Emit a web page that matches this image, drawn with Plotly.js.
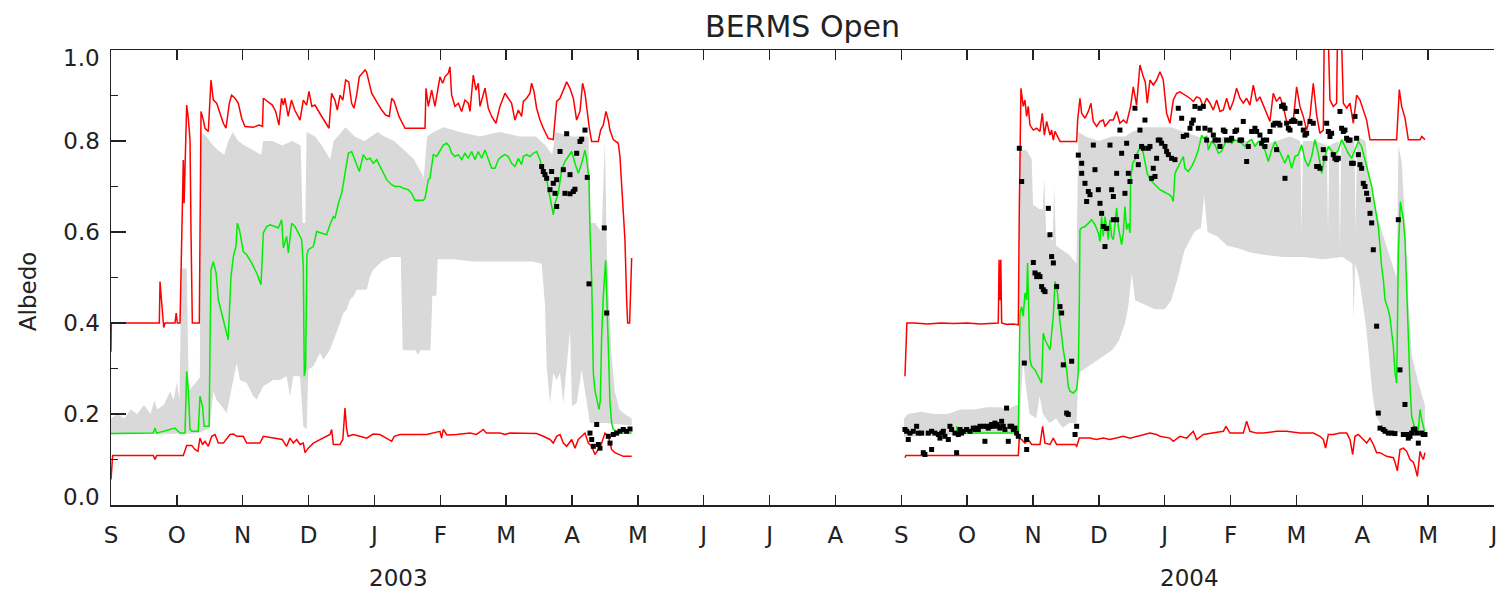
<!DOCTYPE html>
<html>
<head>
<meta charset="utf-8">
<script src="https://cdn.plot.ly/plotly-3.0.1.min.js"></script>
<style>
  html, body { margin: 0; padding: 0; background: #fff; }
  #chart { width: 1508px; height: 594px; }
</style>
</head>
<body>
<div id="chart"></div>
<script>
// x is measured in months from 1 September 2002; y is albedo.
const monthLabels = ['S','O','N','D','J','F','M','A','M','J','J','A','S','O','N','D','J','F','M','A','M','J'];
const albedoTicks = [0, 0.2, 0.4, 0.6, 0.8, 1.0];
const albedoTickText = ['0.0', '0.2', '0.4', '0.6', '0.8', '1.0'];
const yearLabels = [['2003', 4.36], ['2004', 16.38]];

// ---- winter 2002/03 ----
const s1Max = [[0,0.337],[0.005,0.40],[0.592,0.40],[0.734,0.40],[0.744,0.491],[0.77,0.44],[0.785,0.429],[0.80,0.39],[0.82,0.40],[0.972,0.40],[0.99,0.422],[1.007,0.40],[1.048,0.40],[1.073,0.579],[1.098,0.758],[1.11,0.663],[1.149,0.879],[1.174,0.85],[1.2,0.802],[1.215,0.598],[1.235,0.40],[1.341,0.40],[1.351,0.634],[1.367,0.865],[1.402,0.846],[1.427,0.828],[1.478,0.821],[1.493,0.879],[1.518,0.934],[1.554,0.89],[1.605,0.883],[1.655,0.861],[1.706,0.839],[1.746,0.828],[1.797,0.883],[1.832,0.901],[1.883,0.894],[1.933,0.883],[1.984,0.85],[2.035,0.832],[2.16,0.830],[2.25,0.835],[2.30,0.832],[2.313,0.894],[2.38,0.887],[2.45,0.879],[2.5,0.865],[2.55,0.835],[2.59,0.894],[2.617,0.879],[2.64,0.894],[2.69,0.854],[2.74,0.89],[2.79,0.868],[2.87,0.846],[2.92,0.89],[2.97,0.879],[3.006,0.909],[3.05,0.876],[3.097,0.879],[3.17,0.861],[3.234,0.846],[3.31,0.828],[3.35,0.905],[3.40,0.89],[3.436,0.868],[3.477,0.901],[3.52,0.89],[3.563,0.934],[3.61,0.930],[3.654,0.883],[3.69,0.872],[3.73,0.901],[3.77,0.941],[3.857,0.956],[3.88,0.952],[3.958,0.905],[4.03,0.887],[4.11,0.868],[4.17,0.857],[4.226,0.854],[4.262,0.894],[4.30,0.887],[4.373,0.854],[4.464,0.828],[4.768,0.828],[4.783,0.916],[4.818,0.876],[4.869,0.912],[4.919,0.876],[4.995,0.941],[5.036,0.927],[5.071,0.941],[5.122,0.949],[5.147,0.963],[5.172,0.901],[5.223,0.876],[5.274,0.883],[5.324,0.865],[5.375,0.890],[5.425,0.883],[5.451,0.865],[5.501,0.945],[5.542,0.912],[5.577,0.927],[5.603,0.876],[5.679,0.916],[5.729,0.872],[5.78,0.854],[5.845,0.839],[5.906,0.876],[5.982,0.905],[6.033,0.894],[6.083,0.883],[6.134,0.846],[6.185,0.868],[6.235,0.854],[6.261,0.887],[6.311,0.894],[6.362,0.905],[6.387,0.927],[6.423,0.909],[6.463,0.872],[6.514,0.846],[6.564,0.828],[6.64,0.806],[6.716,0.803],[6.767,0.887],[6.817,0.894],[6.868,0.912],[6.919,0.930],[6.969,0.916],[7.02,0.894],[7.07,0.846],[7.121,0.865],[7.161,0.927],[7.197,0.905],[7.263,0.828],[7.298,0.799],[7.399,0.799],[7.435,0.824],[7.475,0.835],[7.516,0.865],[7.551,0.846],[7.576,0.824],[7.627,0.803],[7.703,0.795],[7.728,0.766],[7.779,0.656],[7.804,0.583],[7.83,0.45],[7.845,0.40],[7.875,0.40],[7.89,0.48],[7.906,0.543]];

const s1Min = [[0,0.056],[0.025,0.109],[0.643,0.109],[0.668,0.100],[0.693,0.109],[1.098,0.109],[1.149,0.131],[1.225,0.131],[1.275,0.122],[1.32,0.118],[1.351,0.147],[1.39,0.133],[1.427,0.140],[1.478,0.129],[1.529,0.151],[1.579,0.155],[1.63,0.136],[1.706,0.136],[1.807,0.155],[1.86,0.156],[1.908,0.151],[2.009,0.151],[2.06,0.136],[2.262,0.136],[2.313,0.151],[2.516,0.147],[2.6,0.144],[2.667,0.129],[2.718,0.147],[2.768,0.136],[2.82,0.144],[2.87,0.133],[2.92,0.136],[2.946,0.115],[2.996,0.125],[3.072,0.136],[3.173,0.144],[3.325,0.155],[3.351,0.166],[3.376,0.133],[3.477,0.133],[3.52,0.144],[3.553,0.213],[3.579,0.166],[3.6,0.151],[3.68,0.155],[3.78,0.151],[3.882,0.147],[3.98,0.156],[4.084,0.155],[4.18,0.147],[4.262,0.140],[4.30,0.151],[4.388,0.155],[4.793,0.155],[4.995,0.162],[5.02,0.147],[5.046,0.166],[5.1,0.154],[5.249,0.155],[5.451,0.158],[5.55,0.155],[5.654,0.166],[5.7,0.158],[5.907,0.158],[5.98,0.155],[6.058,0.158],[6.261,0.158],[6.463,0.157],[6.564,0.151],[6.666,0.144],[6.716,0.136],[6.767,0.151],[6.818,0.155],[6.868,0.136],[6.919,0.129],[6.995,0.144],[7.045,0.125],[7.096,0.144],[7.147,0.151],[7.197,0.158],[7.248,0.136],[7.299,0.129],[7.349,0.111],[7.4,0.122],[7.45,0.136],[7.501,0.158],[7.551,0.151],[7.602,0.122],[7.653,0.115],[7.729,0.111],[7.779,0.107],[7.906,0.107]];

const s1Mean = [[0,0.157],[0.59,0.158],[0.64,0.158],[0.668,0.169],[0.693,0.158],[0.972,0.169],[0.99,0.166],[1.048,0.158],[1.124,0.158],[1.149,0.294],[1.174,0.254],[1.2,0.166],[1.225,0.162],[1.325,0.162],[1.351,0.239],[1.39,0.217],[1.415,0.173],[1.49,0.173],[1.503,0.341],[1.518,0.517],[1.554,0.535],[1.595,0.510],[1.63,0.451],[1.68,0.422],[1.73,0.393],[1.78,0.363],[1.797,0.422],[1.822,0.502],[1.858,0.546],[1.898,0.568],[1.918,0.619],[1.95,0.605],[2.009,0.557],[2.06,0.550],[2.136,0.532],[2.212,0.510],[2.278,0.484],[2.313,0.598],[2.364,0.612],[2.414,0.616],[2.49,0.612],[2.541,0.609],[2.591,0.627],[2.617,0.565],[2.667,0.590],[2.693,0.554],[2.743,0.619],[2.794,0.612],[2.844,0.598],[2.895,0.583],[2.92,0.525],[2.935,0.283],[2.955,0.30],[2.975,0.55],[2.996,0.561],[3.072,0.568],[3.123,0.601],[3.199,0.598],[3.275,0.594],[3.325,0.616],[3.376,0.634],[3.401,0.630],[3.452,0.663],[3.503,0.685],[3.553,0.726],[3.604,0.773],[3.654,0.777],[3.705,0.759],[3.771,0.733],[3.831,0.770],[3.882,0.759],[3.933,0.762],[3.983,0.751],[4.034,0.759],[4.11,0.737],[4.186,0.715],[4.262,0.704],[4.312,0.700],[4.388,0.700],[4.439,0.696],[4.514,0.693],[4.565,0.685],[4.616,0.670],[4.742,0.670],[4.768,0.674],[4.818,0.715],[4.843,0.718],[4.869,0.751],[4.894,0.770],[4.945,0.766],[4.995,0.780],[5.046,0.791],[5.097,0.795],[5.137,0.788],[5.173,0.773],[5.223,0.766],[5.274,0.770],[5.324,0.759],[5.375,0.773],[5.425,0.762],[5.476,0.777],[5.527,0.759],[5.577,0.777],[5.628,0.762],[5.679,0.780],[5.729,0.759],[5.78,0.740],[5.831,0.740],[5.881,0.759],[5.932,0.766],[5.982,0.770],[6.033,0.766],[6.083,0.751],[6.134,0.744],[6.185,0.762],[6.235,0.748],[6.261,0.766],[6.311,0.770],[6.362,0.766],[6.412,0.773],[6.463,0.777],[6.514,0.759],[6.564,0.729],[6.615,0.715],[6.656,0.685],[6.691,0.656],[6.716,0.638],[6.742,0.663],[6.792,0.685],[6.843,0.737],[6.893,0.755],[6.944,0.766],[6.995,0.777],[7.045,0.751],[7.096,0.729],[7.147,0.751],[7.197,0.780],[7.223,0.759],[7.258,0.715],[7.273,0.605],[7.299,0.495],[7.324,0.29],[7.35,0.25],[7.39,0.224],[7.41,0.210],[7.43,0.23],[7.45,0.371],[7.475,0.458],[7.51,0.538],[7.53,0.45],[7.55,0.371],[7.577,0.224],[7.602,0.180],[7.627,0.166],[7.678,0.162],[7.779,0.158],[7.906,0.158]];

const s1RangeTop = [[0,0.19],[0.1,0.20],[0.2,0.19],[0.3,0.21],[0.4,0.20],[0.5,0.22],[0.6,0.20],[0.66,0.23],[0.7,0.21],[0.8,0.22],[0.9,0.25],[0.95,0.23],[1.0,0.27],[1.04,0.23],[1.07,0.52],[1.15,0.52],[1.18,0.25],[1.3,0.27],[1.35,0.28],[1.36,0.82],[1.45,0.81],[1.55,0.79],[1.62,0.78],[1.72,0.77],[1.78,0.80],[1.85,0.82],[1.93,0.80],[2.03,0.79],[2.15,0.78],[2.28,0.77],[2.31,0.80],[2.45,0.80],[2.6,0.79],[2.75,0.80],[2.88,0.79],[2.91,0.62],[2.95,0.62],[2.97,0.82],[3.1,0.81],[3.2,0.79],[3.33,0.76],[3.38,0.80],[3.5,0.82],[3.56,0.83],[3.7,0.81],[3.85,0.80],[3.95,0.81],[4.05,0.82],[4.15,0.81],[4.3,0.80],[4.45,0.78],[4.6,0.76],[4.75,0.72],[4.8,0.81],[4.9,0.82],[5.05,0.83],[5.3,0.82],[5.6,0.81],[5.9,0.82],[6.2,0.81],[6.45,0.81],[6.6,0.79],[6.7,0.77],[6.75,0.82],[7.0,0.81],[7.25,0.81],[7.28,0.62],[7.35,0.62],[7.45,0.60],[7.5,0.80],[7.53,0.55],[7.6,0.33],[7.65,0.25],[7.72,0.21],[7.8,0.20],[7.906,0.19]];

const s1RangeBottom = [[0,0.155],[1.30,0.157],[1.36,0.16],[1.50,0.17],[1.554,0.25],[1.605,0.23],[1.681,0.217],[1.757,0.202],[1.833,0.253],[1.908,0.312],[1.959,0.275],[2.06,0.268],[2.161,0.239],[2.212,0.232],[2.313,0.261],[2.389,0.268],[2.465,0.275],[2.566,0.275],[2.667,0.283],[2.718,0.239],[2.768,0.283],[2.87,0.283],[2.92,0.173],[2.971,0.166],[2.996,0.297],[3.072,0.305],[3.123,0.319],[3.173,0.334],[3.224,0.319],[3.325,0.341],[3.376,0.363],[3.477,0.40],[3.528,0.422],[3.579,0.429],[3.629,0.451],[3.68,0.458],[3.73,0.473],[3.882,0.473],[3.933,0.502],[3.983,0.517],[4.11,0.535],[4.25,0.545],[4.40,0.545],[4.43,0.34],[4.62,0.34],[4.66,0.33],[4.70,0.34],[4.85,0.34],[4.88,0.46],[4.94,0.46],[4.96,0.54],[5.20,0.54],[5.50,0.535],[5.80,0.535],[6.10,0.535],[6.40,0.535],[6.54,0.53],[6.59,0.44],[6.615,0.305],[6.666,0.224],[6.716,0.29],[6.767,0.275],[6.818,0.29],[6.868,0.224],[6.919,0.305],[6.97,0.385],[7.0,0.217],[7.071,0.224],[7.147,0.297],[7.223,0.224],[7.273,0.18],[7.5,0.18],[7.7,0.178],[7.906,0.175]];

const s1Obs = [[6.539,0.744],[6.564,0.733],[6.59,0.726],[6.615,0.718],[6.691,0.733],[6.666,0.693],[6.716,0.707],[6.742,0.685],[6.767,0.656],[6.767,0.715],[6.818,0.777],[6.868,0.737],[6.893,0.685],[6.919,0.816],[6.97,0.726],[6.97,0.684],[7.02,0.689],[7.045,0.694],[7.071,0.773],[7.121,0.799],[7.147,0.804],[7.197,0.824],[7.232,0.72],[7.49,0.609],[7.258,0.486],[7.527,0.422],[7.273,0.158],[7.299,0.144],[7.324,0.129],[7.375,0.177],[7.4,0.133],[7.425,0.125],[7.551,0.151],[7.577,0.136],[7.627,0.155],[7.678,0.158],[7.729,0.162],[7.779,0.166],[7.83,0.162],[7.881,0.167]];

// ---- winter 2003/04 ----
const s2Max = [[12.056,0.283],[12.07,0.341],[12.085,0.40],[12.2,0.40],[12.4,0.398],[12.6,0.40],[12.8,0.399],[13.0,0.40],[13.2,0.398],[13.473,0.40],[13.485,0.539],[13.498,0.45],[13.511,0.539],[13.524,0.40],[13.6,0.397],[13.7,0.398],[13.777,0.396],[13.792,0.649],[13.817,0.916],[13.852,0.876],[13.878,0.890],[13.903,0.854],[13.928,0.876],[13.954,0.835],[14.004,0.824],[14.055,0.828],[14.106,0.821],[14.141,0.861],[14.172,0.813],[14.207,0.843],[14.258,0.813],[14.283,0.824],[14.308,0.802],[14.334,0.821],[14.384,0.806],[14.41,0.799],[14.663,0.799],[14.678,0.846],[14.713,0.894],[14.739,0.861],[14.789,0.850],[14.84,0.865],[14.88,0.883],[14.915,0.843],[14.966,0.832],[15.017,0.843],[15.067,0.846],[15.093,0.832],[15.168,0.846],[15.219,0.846],[15.27,0.865],[15.32,0.839],[15.371,0.846],[15.421,0.839],[15.482,0.876],[15.523,0.919],[15.573,0.879],[15.624,0.967],[15.675,0.941],[15.705,0.930],[15.735,0.883],[15.776,0.934],[15.827,0.923],[15.877,0.934],[15.928,0.952],[15.978,0.934],[16.029,0.861],[16.08,0.839],[16.13,0.890],[16.181,0.905],[16.231,0.908],[16.307,0.901],[16.383,0.894],[16.434,0.887],[16.485,0.897],[16.535,0.894],[16.586,0.876],[16.637,0.894],[16.687,0.883],[16.738,0.868],[16.789,0.890],[16.839,0.865],[16.89,0.868],[16.94,0.894],[16.991,0.868],[17.041,0.887],[17.092,0.916],[17.142,0.894],[17.193,0.883],[17.244,0.894],[17.294,0.879],[17.345,0.923],[17.395,0.887],[17.446,0.897],[17.497,0.879],[17.547,0.861],[17.598,0.843],[17.648,0.905],[17.699,0.887],[17.75,0.897],[17.8,0.876],[17.851,0.843],[17.902,0.839],[17.952,0.846],[18.003,0.919],[18.053,0.876],[18.104,0.854],[18.155,0.824],[18.205,0.854],[18.256,0.927],[18.307,0.857],[18.357,0.817],[18.408,0.824],[18.423,1.05],[18.48,1.05],[18.509,0.890],[18.56,0.876],[18.61,0.883],[18.625,1.05],[18.68,1.05],[18.712,0.883],[18.763,0.872],[18.813,0.883],[18.864,0.839],[18.915,0.901],[18.965,0.890],[19.016,0.868],[19.066,0.846],[19.117,0.803],[19.522,0.803],[19.562,0.913],[19.598,0.876],[19.649,0.850],[19.674,0.824],[19.699,0.803],[19.877,0.803],[19.902,0.81],[19.952,0.803]];

const s2Min = [[12.056,0.104],[12.07,0.109],[13.777,0.109],[13.792,0.147],[13.828,0.144],[13.878,0.136],[13.928,0.144],[13.979,0.133],[14.106,0.133],[14.146,0.173],[14.182,0.136],[14.258,0.133],[14.308,0.147],[14.359,0.133],[14.637,0.133],[14.663,0.129],[14.703,0.147],[14.865,0.147],[14.96,0.144],[15.067,0.147],[15.17,0.144],[15.27,0.147],[15.37,0.151],[15.472,0.147],[15.57,0.151],[15.675,0.155],[15.776,0.158],[15.877,0.155],[15.928,0.151],[16.08,0.147],[16.13,0.140],[16.231,0.151],[16.333,0.147],[16.434,0.162],[16.485,0.144],[16.586,0.155],[16.738,0.158],[16.89,0.162],[16.93,0.173],[16.991,0.158],[17.193,0.158],[17.244,0.184],[17.294,0.162],[17.395,0.158],[17.497,0.158],[17.699,0.162],[17.851,0.162],[18.053,0.158],[18.256,0.158],[18.357,0.151],[18.408,0.144],[18.443,0.125],[18.484,0.155],[18.56,0.155],[18.661,0.158],[18.763,0.158],[18.813,0.144],[18.854,0.111],[18.889,0.151],[18.94,0.155],[19.016,0.144],[19.066,0.136],[19.117,0.147],[19.168,0.133],[19.218,0.115],[19.269,0.115],[19.37,0.107],[19.471,0.104],[19.497,0.094],[19.532,0.075],[19.573,0.122],[19.623,0.125],[19.674,0.118],[19.725,0.100],[19.775,0.094],[19.801,0.083],[19.836,0.063],[19.877,0.118],[19.902,0.107],[19.927,0.100],[19.952,0.115]];

const s2Mean = [[12.84,0.173],[12.85,0.158],[13.777,0.158],[13.792,0.29],[13.802,0.422],[13.827,0.436],[13.852,0.415],[13.878,0.466],[13.903,0.451],[13.918,0.532],[13.928,0.48],[13.954,0.319],[13.979,0.305],[14.03,0.297],[14.08,0.283],[14.131,0.268],[14.156,0.378],[14.182,0.363],[14.207,0.356],[14.232,0.349],[14.258,0.341],[14.283,0.378],[14.308,0.415],[14.334,0.491],[14.359,0.48],[14.374,0.463],[14.394,0.422],[14.425,0.385],[14.46,0.341],[14.511,0.297],[14.536,0.261],[14.562,0.250],[14.612,0.246],[14.663,0.254],[14.688,0.290],[14.703,0.436],[14.713,0.605],[14.739,0.609],[14.789,0.612],[14.84,0.619],[14.891,0.627],[14.941,0.616],[14.992,0.598],[15.017,0.579],[15.042,0.634],[15.067,0.590],[15.093,0.634],[15.118,0.612],[15.143,0.583],[15.168,0.627],[15.194,0.590],[15.219,0.583],[15.245,0.627],[15.27,0.653],[15.295,0.612],[15.32,0.590],[15.346,0.572],[15.371,0.598],[15.396,0.656],[15.421,0.605],[15.447,0.619],[15.472,0.598],[15.482,0.715],[15.513,0.751],[15.548,0.759],[15.573,0.770],[15.613,0.780],[15.634,0.788],[15.665,0.780],[15.7,0.751],[15.735,0.729],[15.776,0.715],[15.827,0.707],[15.877,0.700],[15.928,0.693],[15.978,0.689],[16.029,0.685],[16.08,0.681],[16.105,0.677],[16.13,0.667],[16.156,0.729],[16.231,0.751],[16.282,0.766],[16.307,0.740],[16.358,0.733],[16.409,0.744],[16.459,0.759],[16.51,0.780],[16.561,0.813],[16.586,0.806],[16.637,0.810],[16.662,0.780],[16.712,0.799],[16.763,0.792],[16.814,0.773],[16.864,0.777],[16.915,0.795],[16.966,0.803],[17.016,0.795],[17.067,0.803],[17.117,0.799],[17.168,0.795],[17.219,0.788],[17.269,0.799],[17.32,0.803],[17.37,0.788],[17.421,0.799],[17.472,0.788],[17.522,0.780],[17.573,0.755],[17.623,0.780],[17.674,0.799],[17.724,0.784],[17.775,0.770],[17.826,0.751],[17.876,0.770],[17.927,0.740],[17.978,0.766],[18.028,0.770],[18.079,0.792],[18.129,0.759],[18.18,0.744],[18.231,0.766],[18.281,0.803],[18.332,0.773],[18.383,0.729],[18.433,0.766],[18.484,0.788],[18.535,0.780],[18.585,0.770],[18.636,0.780],[18.687,0.803],[18.737,0.788],[18.788,0.773],[18.838,0.762],[18.889,0.780],[18.94,0.799],[18.99,0.788],[19.041,0.759],[19.092,0.733],[19.143,0.700],[19.193,0.656],[19.244,0.612],[19.294,0.524],[19.32,0.495],[19.345,0.451],[19.395,0.429],[19.421,0.411],[19.471,0.349],[19.497,0.29],[19.522,0.268],[19.535,0.407],[19.547,0.55],[19.578,0.667],[19.623,0.627],[19.649,0.583],[19.674,0.495],[19.699,0.371],[19.725,0.261],[19.75,0.195],[19.801,0.166],[19.851,0.166],[19.877,0.210],[19.902,0.188],[19.952,0.158]];

const s2RangeTop = [[12.04,0.19],[12.1,0.20],[12.3,0.205],[12.5,0.20],[12.7,0.20],[12.9,0.21],[13.1,0.21],[13.3,0.215],[13.5,0.215],[13.6,0.21],[13.75,0.22],[13.785,0.22],[13.8,0.78],[13.9,0.78],[13.98,0.76],[14.0,0.66],[14.1,0.65],[14.15,0.65],[14.17,0.72],[14.2,0.60],[14.3,0.58],[14.32,0.70],[14.35,0.57],[14.45,0.56],[14.55,0.55],[14.66,0.53],[14.69,0.82],[14.8,0.81],[15.0,0.80],[15.2,0.81],[15.4,0.81],[15.5,0.82],[15.7,0.83],[15.9,0.83],[16.1,0.83],[16.3,0.82],[16.5,0.81],[16.7,0.80],[16.9,0.81],[17.1,0.80],[17.3,0.80],[17.5,0.79],[17.7,0.80],[17.9,0.81],[18.06,0.80],[18.08,0.60],[18.10,0.80],[18.3,0.80],[18.46,0.79],[18.48,0.60],[18.50,0.79],[18.64,0.80],[18.66,0.56],[18.68,0.80],[18.88,0.81],[18.90,0.60],[18.92,0.81],[19.05,0.80],[19.1,0.72],[19.2,0.65],[19.3,0.60],[19.45,0.53],[19.52,0.50],[19.55,0.79],[19.6,0.75],[19.65,0.62],[19.7,0.45],[19.75,0.33],[19.85,0.27],[19.95,0.22]];

const s2RangeBottom = [[12.04,0.15],[12.84,0.155],[13.785,0.158],[13.8,0.17],[13.85,0.32],[13.9,0.25],[13.95,0.20],[14.05,0.19],[14.1,0.24],[14.15,0.20],[14.25,0.18],[14.35,0.19],[14.45,0.17],[14.55,0.18],[14.66,0.18],[14.69,0.29],[14.8,0.30],[14.9,0.31],[15.0,0.32],[15.1,0.33],[15.2,0.34],[15.3,0.36],[15.4,0.40],[15.45,0.44],[15.5,0.51],[15.55,0.45],[15.7,0.44],[15.85,0.43],[16.0,0.43],[16.1,0.45],[16.2,0.50],[16.3,0.56],[16.45,0.60],[16.55,0.61],[16.6,0.68],[16.65,0.60],[16.8,0.59],[16.95,0.57],[17.1,0.565],[17.3,0.555],[17.5,0.55],[17.8,0.545],[18.1,0.545],[18.4,0.54],[18.7,0.545],[18.85,0.53],[18.87,0.41],[18.89,0.53],[18.95,0.50],[19.0,0.45],[19.05,0.40],[19.1,0.33],[19.15,0.25],[19.2,0.20],[19.3,0.17],[19.4,0.16],[19.95,0.158]];

const s2Obs = [[12.056,0.166],[12.081,0.162],[12.106,0.144],[12.132,0.158],[12.182,0.162],[12.233,0.173],[12.258,0.158],[12.309,0.158],[12.334,0.115],[12.359,0.111],[12.41,0.158],[12.461,0.162],[12.461,0.122],[12.511,0.158],[12.562,0.155],[12.587,0.147],[12.613,0.158],[12.638,0.162],[12.663,0.151],[12.714,0.144],[12.739,0.173],[12.764,0.166],[12.815,0.158],[12.84,0.115],[12.866,0.155],[12.891,0.166],[12.916,0.158],[12.941,0.162],[12.992,0.166],[13.043,0.162],[13.093,0.169],[13.119,0.166],[13.144,0.169],[13.169,0.166],[13.195,0.173],[13.245,0.173],[13.27,0.140],[13.296,0.173],[13.321,0.169],[13.346,0.173],[13.372,0.177],[13.397,0.173],[13.422,0.180],[13.448,0.177],[13.473,0.173],[13.498,0.169],[13.524,0.184],[13.549,0.173],[13.574,0.166],[13.599,0.213],[13.625,0.140],[13.65,0.173],[13.675,0.173],[13.701,0.166],[13.726,0.169],[13.751,0.158],[13.777,0.151],
  [13.792,0.784],[13.828,0.711],[13.868,0.312],[13.903,0.144],[13.904,0.122],[14.005,0.533],[14.03,0.51],[14.056,0.502],[14.081,0.506],[14.106,0.502],[14.131,0.48],[14.157,0.473],[14.182,0.469],[14.233,0.652],[14.258,0.594],[14.283,0.546],[14.309,0.532],[14.359,0.48],[14.41,0.436],[14.435,0.422],[14.46,0.308],[14.511,0.202],[14.536,0.199],[14.587,0.316],[14.638,0.155],[14.663,0.173],[14.688,0.769],[14.739,0.751],[14.739,0.729],[14.789,0.707],[14.814,0.667],[14.84,0.689],[14.865,0.682],[14.916,0.791],[14.941,0.737],[14.992,0.693],[15.017,0.663],[15.042,0.641],[15.068,0.612],[15.093,0.568],[15.118,0.608],[15.169,0.791],[15.194,0.693],[15.22,0.678],[15.22,0.627],
  [15.27,0.729],[15.27,0.627],[15.32,0.824],[15.346,0.773],[15.396,0.685],[15.422,0.795],[15.447,0.729],[15.472,0.711],[15.548,0.872],[15.573,0.766],[15.599,0.748],[15.624,0.824],[15.649,0.788],[15.675,0.784],[15.7,0.846],[15.751,0.784],[15.776,0.788],[15.801,0.718],[15.826,0.740],[15.852,0.722],[15.877,0.762],[15.902,0.802],
  [15.928,0.802],[15.953,0.795],[16.004,0.788],[16.029,0.777],[16.055,0.770],[16.105,0.762],[16.156,0.759],[16.206,0.872],[16.257,0.850],[16.282,0.810],[16.333,0.813],[16.384,0.828],[16.409,0.839],[16.434,0.846],[16.459,0.876],[16.51,0.828],[16.535,0.872],[16.586,0.876],[16.611,0.828],[16.637,0.802],[16.687,0.824],[16.738,0.813],[16.763,0.802],[16.814,0.802],[16.839,0.788],[16.89,0.824],[16.915,0.821],[16.94,0.802],[16.991,0.802],[17.016,0.806],[17.067,0.821],[17.092,0.824],[17.143,0.802],[17.168,0.802],[17.193,0.843],[17.244,0.755],[17.269,0.788],[17.32,0.821],[17.37,0.828],[17.396,0.821],[17.446,0.813],[17.472,0.795],[17.497,0.802],[17.522,0.788],[17.548,0.802],[17.598,0.821],[17.649,0.835],[17.674,0.839],[17.699,0.781],[17.725,0.839],[17.75,0.835],[17.775,0.876],[17.801,0.879],[17.826,0.872],[17.826,0.718],[17.851,0.839],[17.877,0.828],[17.902,0.824],[17.927,0.843],[17.952,0.846],[17.978,0.843],[18.003,0.865],[18.054,0.839],[18.104,0.824],[18.13,0.813],[18.155,0.817],[18.206,0.843],[18.256,0.839],[18.307,0.744],[18.332,0.744],[18.357,0.740],[18.408,0.781],[18.433,0.762],[18.459,0.839],[18.484,0.821],[18.509,0.810],[18.535,0.817],[18.56,0.770],[18.585,0.762],[18.61,0.759],[18.636,0.762],[18.661,0.865],[18.686,0.828],[18.712,0.821],[18.737,0.824],[18.762,0.806],[18.788,0.802],[18.813,0.802],[18.838,0.751],[18.864,0.751],[18.889,0.854],[18.914,0.806],[18.94,0.770],[18.965,0.748],[18.99,0.740],[19.015,0.707],[19.041,0.700],[19.066,0.685],[19.091,0.671],[19.117,0.641],[19.142,0.620],[19.167,0.561],[19.547,0.627],
  [19.218,0.393],[19.243,0.202],[19.269,0.169],[19.319,0.166],[19.345,0.162],[19.395,0.158],[19.446,0.158],[19.496,0.157],[19.572,0.297],[19.623,0.155],[19.648,0.221],[19.673,0.155],[19.699,0.147],[19.724,0.151],[19.749,0.158],[19.775,0.166],[19.8,0.167],[19.825,0.158],[19.851,0.136],[19.901,0.158],[19.926,0.155],[19.952,0.155]];

// ---- colours and helpers ----
const RED = '#ff0000', GREEN = '#00ee00', GREY = '#d9d9d9', INK = '#222222';
const FONT = 'DejaVu Sans';

const xOf = p => p.map(d => d[0]);
const yOf = p => p.map(d => d[1]);

function rangeBand(top, bottom) {
  const lo = bottom.slice().reverse();
  return {
    x: xOf(top).concat(xOf(lo)), y: yOf(top).concat(yOf(lo)),
    type: 'scatter', mode: 'lines', fill: 'toself', fillcolor: GREY,
    line: { width: 0, color: GREY }, hoverinfo: 'skip'
  };
}
function seriesLine(p, color) {
  return { x: xOf(p), y: yOf(p), type: 'scatter', mode: 'lines',
           line: { color: color, width: 1.5 }, hoverinfo: 'skip' };
}
function obsPoints(p) {
  return { x: xOf(p), y: yOf(p), type: 'scatter', mode: 'markers',
           marker: { color: '#000', size: 5, symbol: 'square' }, hoverinfo: 'skip' };
}

const traces = [
  rangeBand(s1RangeTop, s1RangeBottom),
  rangeBand(s2RangeTop, s2RangeBottom),
  seriesLine(s1Max, RED), seriesLine(s1Min, RED),
  seriesLine(s2Max, RED), seriesLine(s2Min, RED),
  seriesLine(s1Mean, GREEN), seriesLine(s2Mean, GREEN),
  obsPoints(s1Obs), obsPoints(s2Obs)
];

const tickFont = { family: FONT, size: 23, color: INK };

// The end labels of the albedo axis sit just inside the frame, so they are
// drawn as annotations; the inner ones stay ordinary tick labels.
const lastTick = albedoTicks.length - 1;
const innerTickText = albedoTickText.map((t, i) => (i === 0 || i === lastTick) ? '' : t);
const endLabels = [[0, 8], [lastTick, -8]].map(([i, shift]) => ({
  text: albedoTickText[i], x: 0, xref: 'paper', xanchor: 'right', xshift: -9,
  y: albedoTicks[i], yref: 'y', yanchor: 'middle', yshift: shift,
  showarrow: false, font: tickFont
}));

const layout = {
  width: 1508, height: 594,
  margin: { l: 111, r: 14, t: 50, b: 89 },
  paper_bgcolor: '#fff', plot_bgcolor: '#fff',
  showlegend: false, hovermode: false,
  title: { text: 'BERMS Open', font: { family: FONT, size: 30, color: INK },
           x: 0.5322, xanchor: 'center', yref: 'container', y: 0.956, yanchor: 'middle' },
  xaxis: {
    range: [0, 21], tickmode: 'array',
    tickvals: monthLabels.map((_, i) => i), ticktext: monthLabels,
    ticks: 'inside', ticklen: 10, tickwidth: 1.5, tickcolor: INK,
    showline: true, linewidth: 1.5, linecolor: INK, mirror: 'ticks',
    showgrid: false, zeroline: false, tickfont: tickFont, ticklabelstandoff: 9
  },
  yaxis: {
    range: [0, 1], tickmode: 'array', tickvals: albedoTicks, ticktext: innerTickText,
    ticks: 'inside', ticklen: 15, tickwidth: 1.5, tickcolor: INK,
    minor: { dtick: 0.1, tick0: 0, ticks: 'inside', ticklen: 7, tickwidth: 1.5, tickcolor: INK },
    showline: true, linewidth: 1.5, linecolor: INK,
    showgrid: false, zeroline: false, tickfont: tickFont, ticklabelstandoff: 5
  },
  yaxis2: {
    overlaying: 'y', side: 'right', range: [0, 1], dtick: 0.1, tick0: 0,
    ticks: 'inside', ticklen: 8, tickwidth: 1.5, tickcolor: INK,
    showticklabels: false, showline: true, linewidth: 1.5, linecolor: INK,
    showgrid: false, zeroline: false
  },
  annotations: yearLabels.map(([label, pos]) => ({
    text: label, x: pos, xref: 'x', y: -0.16, yref: 'paper',
    showarrow: false, xanchor: 'center', yanchor: 'middle', font: tickFont
  })).concat([{
    text: 'Albedo', textangle: -90, x: -0.06, xref: 'paper', y: 0.47, yref: 'paper',
    showarrow: false, xanchor: 'center', yanchor: 'middle', font: tickFont
  }]).concat(endLabels)
};

Plotly.newPlot('chart', traces, layout, { staticPlot: true, displayModeBar: false });
</script>
</body>
</html>
